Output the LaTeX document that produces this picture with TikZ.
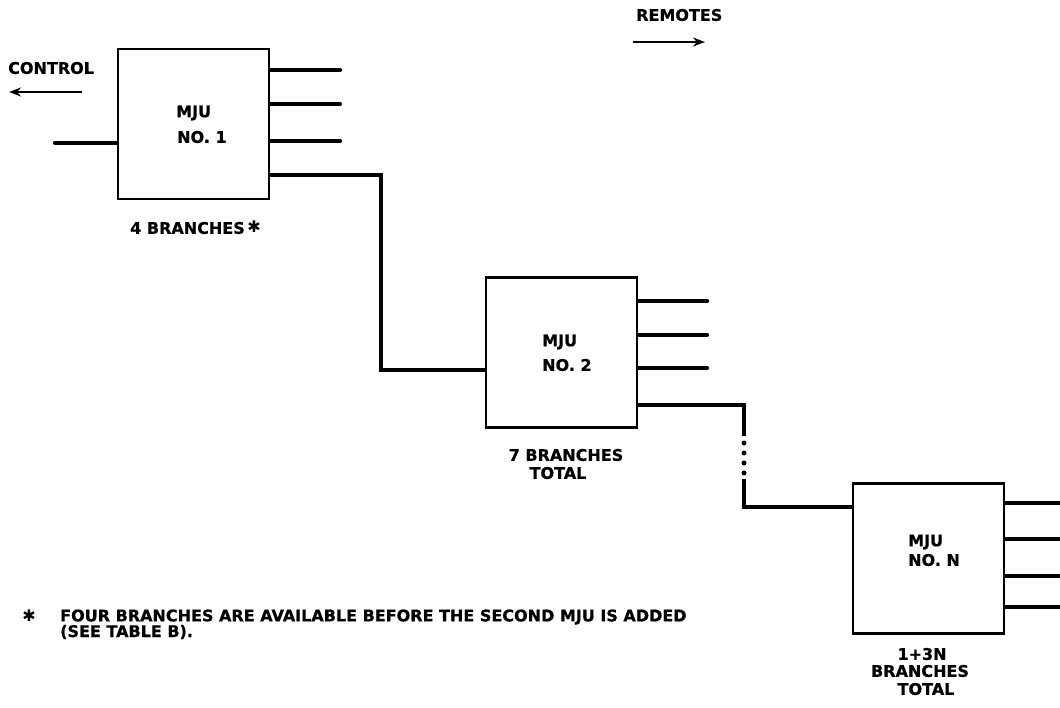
\documentclass[tikz,border=0pt]{standalone}
\usepackage{fontspec}
\setmainfont[BoldFeatures={FakeBold=0.8}]{DejaVu Sans}
\usetikzlibrary{arrows.meta}
\begin{document}
\begin{tikzpicture}[x=1pt,y=-1pt,
  box/.style={draw,line width=2.2pt,minimum width=151pt,minimum height=150pt,inner sep=0pt},
  wire/.style={line width=4.2pt},
  stub/.style={line width=4.2pt,line cap=round},
  lbl/.style={font=\bfseries\fontsize{16}{18}\selectfont,inner sep=0pt},
  ast/.style={font=\fontsize{16}{18}\selectfont,inner sep=0pt},
  flow/.style={line width=2.2pt,-{Stealth[length=12pt,width=9pt]}}]
\useasboundingbox (0,0) rectangle (1060,707);
% boxes
\node[box] (b1) at (193.5,124) {};
\node[box] (b2) at (561.5,352.5) {};
\node[box] (bN) at (928.5,558.5) {};
% box texts
\node[lbl,anchor=west] (b1t1) at (176,113) {MJU};
\node[lbl,anchor=west] (b1t2) at (177,137) {NO. 1};
\node[lbl,anchor=west] (b2t1) at (542,342) {MJU};
\node[lbl,anchor=west] (b2t2) at (542,365) {NO. 2};
\node[lbl,anchor=west] (bNt1) at (908,542) {MJU};
\node[lbl,anchor=west] (bNt2) at (908,560) {NO. N};
% labels below boxes
\node[lbl,anchor=west] (l1) at (130,228) {4 BRANCHES};
\node[ast] (l1s) at (254,227) {✱};
\node[lbl] (l2a) at (566,455) {7 BRANCHES};
\node[lbl] (l2b) at (558,473) {TOTAL};
\node[lbl] (l3a) at (922,654) {1+3N};
\node[lbl] (l3b) at (920,671) {BRANCHES};
\node[lbl] (l3c) at (926,689) {TOTAL};
% direction labels
\node[lbl,anchor=west] (ctl) at (8,68) {CONTROL};
\coordinate (ctlA) at (82,92);
\coordinate (ctlB) at (9,92);
\draw[flow] (ctlA) -- (ctlB);
\node[lbl,anchor=west] (rem) at (636,15) {REMOTES};
\coordinate (remA) at (633,42);
\coordinate (remB) at (705,42);
\draw[flow] (remA) -- (remB);
% MJU 1 wires
\coordinate (in1) at (55,143);
\draw[stub] (in1) -- (b1.west |- in1);
\foreach \y [count=\i] in {70,104,141}{
  \coordinate (e1\i) at (340,\y);
  \draw[stub] (b1.east |- e1\i) -- (e1\i);
}
\coordinate (o1) at (269,175);
\coordinate (in2) at (486,370);
\coordinate (k1) at (381,370);
\draw[wire] (o1) -| (k1) -- (b2.west |- in2);
% MJU 2 wires
\foreach \y [count=\i] in {301,335,368}{
  \coordinate (e2\i) at (707,\y);
  \draw[stub] (b2.east |- e2\i) -- (e2\i);
}
\coordinate (o2) at (637,405);
\coordinate (k2) at (744,436);
\draw[wire] (o2) -| (k2);
\foreach \y in {443,453,463,473}{
  \fill (744,\y) circle (2.5pt);
}
\coordinate (k3) at (744,479);
\coordinate (inN) at (853,507);
\draw[wire] (k3) |- (bN.west |- inN);
% MJU N wires
\foreach \y [count=\i] in {503,539,576,607}{
  \coordinate (eN\i) at (1062,\y);
  \draw[wire] (bN.east |- eN\i) -- (eN\i);
}
% footnote
\node[ast] (star) at (29,616) {✱};
\node[lbl,anchor=west] (fn1) at (60,617) {FOUR BRANCHES ARE AVAILABLE BEFORE THE SECOND MJU IS ADDED};
\node[lbl,anchor=west] (fn2) at (60,632) {(SEE TABLE B).};
\end{tikzpicture}
\end{document}
